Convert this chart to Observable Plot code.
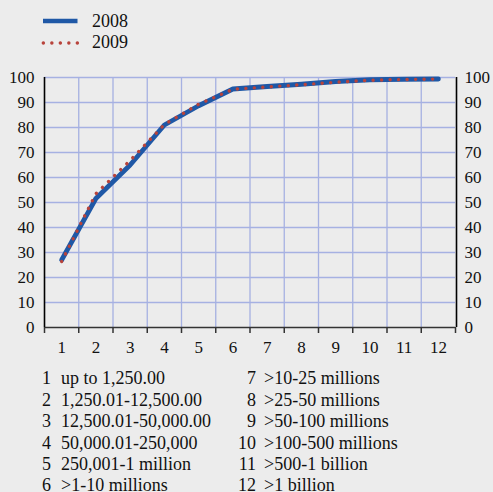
<!DOCTYPE html>
<html>
<head>
<meta charset="utf-8">
<script src="https://cdn.jsdelivr.net/npm/d3@7"></script>
<script src="https://cdn.jsdelivr.net/npm/@observablehq/plot@0.6"></script>
<style>
  html, body { margin: 0; padding: 0; background: #ececec; }
  body { width: 493px; height: 492px; position: relative; overflow: hidden;
         font-family: "Liberation Serif", "Times New Roman", serif; color: #111; }
  #legend { position: absolute; left: 0; top: 0; }
  .lg { position: absolute; font-size: 18px; line-height: 21px; white-space: nowrap; font-family: "Liberation Serif", serif; }
  #chart { position: absolute; left: 0; top: 60px; }
  #chart svg, #chart svg text { font-family: "Liberation Serif", "Times New Roman", serif !important; font-size: 17px; }
  .note { position: absolute; font-size: 18px; line-height: 21.3px; white-space: nowrap; font-family: "Liberation Serif", serif; }
  .num { text-align: right; }
</style>
</head>
<body>
<div id="legend"></div>
<div id="chart"></div>
<div id="notes"></div>
<script>
const categories = [1, 2, 3, 4, 5, 6, 7, 8, 9, 10, 11, 12];
const rangeLabels = [
  "up to 1,250.00", "1,250.01-12,500.00", "12,500.01-50,000.00", "50,000.01-250,000",
  "250,001-1 million", ">1-10 millions", ">10-25 millions", ">25-50 millions",
  ">50-100 millions", ">100-500 millions", ">500-1 billion", ">1 billion"
];
const seriesNames = ["2008", "2009"];
const values2008 = [27.0, 51.6, 65.0, 81.0, 88.7, 95.4, 96.4, 97.3, 98.4, 99.1, 99.3, 99.4];
const values2009 = [26.4, 53.5, 66.8, 81.2, 89.3, 95.3, 96.2, 97.1, 98.1, 98.9, 99.2, 99.4];
const yTicks = [0, 10, 20, 30, 40, 50, 60, 70, 80, 90, 100];

const blue = "#1f58a6";
const red = "#b8433b";
const grid = "#a6b1e2";

const data2008 = categories.map((c, i) => ({cat: c, value: values2008[i]}));
const data2009 = categories.map((c, i) => ({cat: c, value: values2009[i]}));
const boundaries = d3.range(0.5, 13, 1);
const inner = d3.range(1.5, 12, 1);

const chart = Plot.plot({
  width: 493,
  height: 302,
  marginLeft: 44,
  marginRight: 38,
  marginTop: 17,
  marginBottom: 35,
  style: {background: "transparent", "font-family": "Liberation Serif, serif", "font-size": "17px", color: "#111"},
  x: {domain: [0.5, 12.5], axis: null},
  y: {domain: [0, 100], axis: null},
  marks: [
    Plot.gridY(yTicks.filter(d => d > 0), {stroke: grid, strokeOpacity: 1, strokeWidth: 1.3}),
    Plot.gridX(inner, {stroke: grid, strokeOpacity: 1, strokeWidth: 1.3}),
    Plot.axisY(yTicks, {anchor: "left", tickSize: 0, tickPadding: 10, fontSize: 17, label: null}),
    Plot.axisY(yTicks, {anchor: "right", tickSize: 0, tickPadding: 9, fontSize: 17, label: null}),
    Plot.axisX(boundaries, {anchor: "bottom", tickSize: 6, tickFormat: () => "", stroke: "#333", strokeWidth: 1.5, label: null}),
    Plot.axisX(categories, {anchor: "bottom", tickSize: 0, tickPadding: 13, fontSize: 17, label: null}),
    Plot.ruleY([0], {stroke: "#333", strokeWidth: 1.5}),
    Plot.ruleX([0.5], {y1: 0, y2: 100, stroke: "#000", strokeWidth: 1.6}),
    Plot.ruleX([12.5], {y1: 0, y2: 100, stroke: "#000", strokeWidth: 1.6, dx: 1}),
    Plot.line(data2008, {x: "cat", y: "value", stroke: blue, strokeWidth: 4.8}),
    Plot.line(data2009, {x: "cat", y: "value", stroke: red, strokeWidth: 3.4, strokeDasharray: "0.1 8.4", strokeLinecap: "round"})
  ]
});
document.getElementById("chart").appendChild(chart);

// Legend
const legend = document.getElementById("legend");
const legendItems = [
  {name: seriesNames[0], color: blue, dash: null, width: 4.5, top: 10.5},
  {name: seriesNames[1], color: red, dash: "0.1 8.4", width: 3.4, top: 32}
];
legendItems.forEach(it => {
  const svg = d3.create("svg").attr("width", 40).attr("height", 10)
    .style("position", "absolute").style("left", "40px").style("top", (it.top + 5.5) + "px");
  const ln = svg.append("line").attr("x1", 3).attr("x2", 37.5).attr("y1", 5).attr("y2", 5)
    .attr("stroke", it.color).attr("stroke-width", it.width);
  if (it.dash) ln.attr("stroke-dasharray", it.dash).attr("stroke-linecap", "round").attr("x1", 3.3).attr("x2", 37.5);
  legend.appendChild(svg.node());
  const t = document.createElement("div");
  t.className = "lg";
  t.style.left = "92px";
  t.style.top = it.top + "px";
  t.textContent = it.name;
  legend.appendChild(t);
});

// Footnotes
const notes = document.getElementById("notes");
categories.forEach((c, i) => {
  const col = i < 6 ? 0 : 1;
  const row = i % 6;
  const top = 368.3 + row * 21.4;
  const n = document.createElement("div");
  n.className = "note num";
  n.style.width = "40px";
  n.style.left = (col === 0 ? 11 : 216) + "px";
  n.style.top = top + "px";
  n.textContent = c;
  notes.appendChild(n);
  const t = document.createElement("div");
  t.className = "note";
  t.style.left = (col === 0 ? 61 : 264) + "px";
  t.style.top = top + "px";
  t.textContent = rangeLabels[i];
  notes.appendChild(t);
});
</script>
</body>
</html>
